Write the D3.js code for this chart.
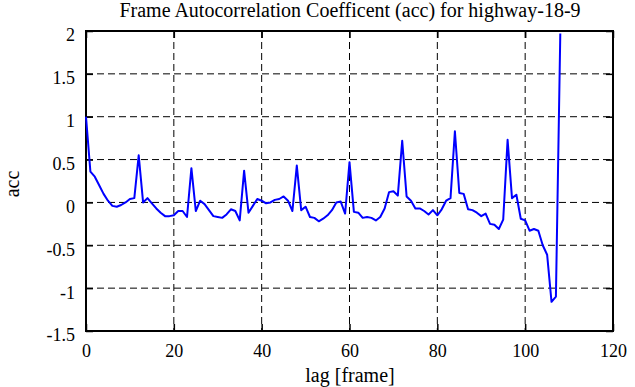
<!DOCTYPE html>
<html><head><meta charset="utf-8">
<script src="https://cdn.jsdelivr.net/npm/d3@7"></script>
<style>body{margin:0;background:#fff}svg{display:block}svg text{font-family:"Liberation Serif","Times New Roman",serif !important;fill:#000}</style>
</head><body>
<svg id="chart" width="635" height="387"></svg>
<script>
const title = "Frame Autocorrelation Coefficent (acc) for highway-18-9";
const xLabel = "lag [frame]";
const yLabel = "acc";
const xTicks = [0, 20, 40, 60, 80, 100, 120];
const yTicks = [-1.5, -1, -0.5, 0, 0.5, 1, 1.5, 2];
const lags = d3.range(0, 109);
const acc = [
 1.00, 0.36, 0.30, 0.20, 0.10, 0.02, -0.04, -0.05, -0.03, 0.00,
 0.04, 0.05, 0.55, 0.00, 0.05, -0.01, -0.07, -0.12, -0.16, -0.16,
 -0.15, -0.10, -0.10, -0.17, 0.40, -0.10, 0.02, -0.02, -0.09, -0.16,
 -0.17, -0.18, -0.14, -0.08, -0.10, -0.21, 0.37, -0.12, -0.04, 0.04,
 0.02, -0.01, 0.00, 0.03, 0.04, 0.07, 0.02, -0.10, 0.43, -0.09,
 -0.05, -0.17, -0.18, -0.22, -0.19, -0.15, -0.09, 0.00, 0.01, -0.13,
 0.47, -0.11, -0.12, -0.18, -0.17, -0.18, -0.21, -0.17, -0.07, 0.12,
 0.13, 0.08, 0.72, 0.07, 0.02, -0.07, -0.07, -0.10, -0.14, -0.09,
 -0.15, -0.08, 0.02, 0.05, 0.83, 0.11, 0.10, -0.08, -0.09, -0.12,
 -0.16, -0.13, -0.25, -0.26, -0.31, -0.20, 0.73, 0.05, 0.09, -0.19,
 -0.21, -0.33, -0.31, -0.33, -0.50, -0.61, -1.16, -1.10, 1.97
];

const W = 635, H = 387;
const m = {left: 86, right: 22, top: 31, bottom: 56};
const svg = d3.select("#chart");
const x = d3.scaleLinear().domain([0, 120]).range([m.left, W - m.right]);
const y = d3.scaleLinear().domain([-1.5, 2]).range([H - m.bottom, m.top]);

const g = svg.append("g");
g.selectAll(".gx").data(xTicks.slice(1, -1)).join("line")
  .attr("x1", d => x(d)).attr("x2", d => x(d))
  .attr("y1", y(2)).attr("y2", y(-1.5))
  .attr("stroke", "#000").attr("stroke-width", 1).attr("stroke-dasharray", "7,4");
g.selectAll(".gy").data(yTicks.slice(1, -1)).join("line")
  .attr("y1", d => y(d)).attr("y2", d => y(d))
  .attr("x1", x(0)).attr("x2", x(120))
  .attr("stroke", "#000").attr("stroke-width", 1).attr("stroke-dasharray", "7,4");

const fmt = d => String(d);
const ax = svg.append("g").attr("transform", `translate(0,${y(-1.5)})`)
  .call(d3.axisBottom(x).tickValues(xTicks).tickFormat(fmt).tickSizeInner(-7).tickSizeOuter(0).tickPadding(13));
const axT = svg.append("g").attr("transform", `translate(0,${y(2)})`)
  .call(d3.axisTop(x).tickValues(xTicks).tickFormat("").tickSizeInner(-7).tickSizeOuter(0));
const ay = svg.append("g").attr("transform", `translate(${x(0)},0)`)
  .call(d3.axisLeft(y).tickValues(yTicks).tickFormat(fmt).tickSizeInner(-7).tickSizeOuter(0).tickPadding(11));
const ayR = svg.append("g").attr("transform", `translate(${x(120)},0)`)
  .call(d3.axisRight(y).tickValues(yTicks).tickFormat("").tickSizeInner(-7).tickSizeOuter(0));
[ax, axT, ay, ayR].forEach(a => {
  a.attr("font-family", "Liberation Serif").attr("font-size", 18);
  a.select(".domain").remove();
  a.selectAll(".tick line").attr("stroke", "#000").attr("stroke-width", 1.5);
  a.selectAll("text").attr("fill", "#000");
});
ay.selectAll("text").attr("dy", "0.55em");

svg.append("rect").attr("x", x(0)).attr("y", y(2))
  .attr("width", x(120) - x(0)).attr("height", y(-1.5) - y(2))
  .attr("fill", "none").attr("stroke", "#000").attr("stroke-width", 2);

const line = d3.line().x((d, i) => x(lags[i])).y(d => y(d));
svg.append("path").datum(acc).attr("d", line)
  .attr("fill", "none").attr("stroke", "#0000ff").attr("stroke-width", 2).attr("stroke-linejoin", "round");

svg.append("text").attr("x", 350).attr("y", 17).attr("text-anchor", "middle")
  .attr("font-size", 20).text(title);
svg.append("text").attr("x", 350).attr("y", 382).attr("text-anchor", "middle")
  .attr("font-size", 20).text(xLabel);
svg.append("text").attr("transform", "translate(19,184) rotate(-90)").attr("text-anchor", "middle")
  .attr("font-size", 20).text(yLabel);
</script>
</body></html>
